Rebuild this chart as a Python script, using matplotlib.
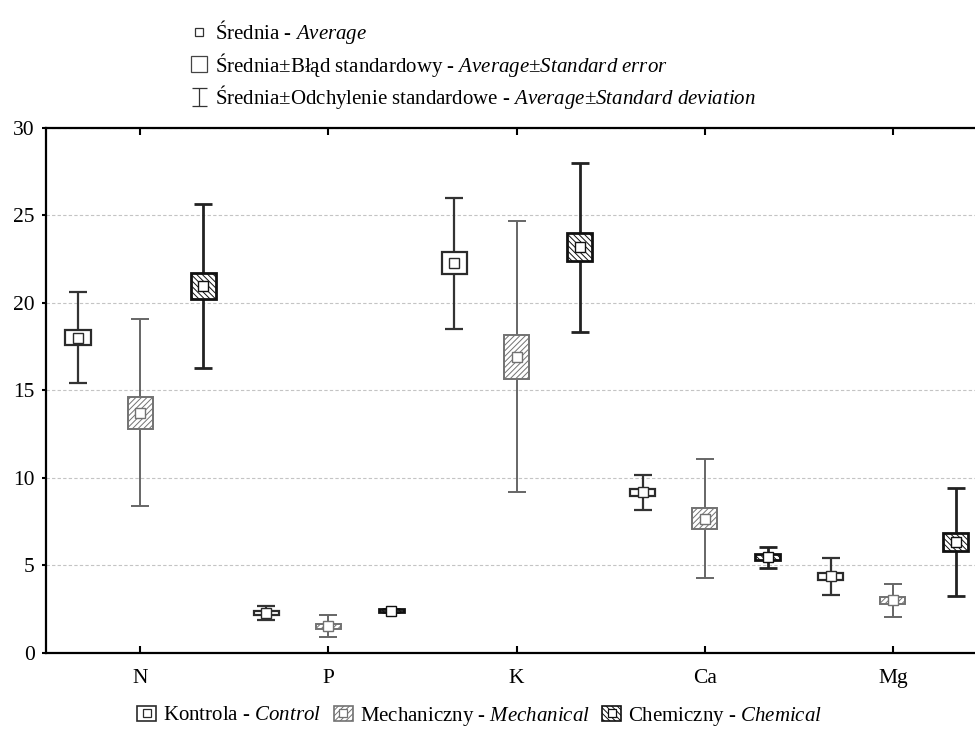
import numpy as np
import matplotlib
matplotlib.use('Agg')
import matplotlib.pyplot as plt
from matplotlib.lines import Line2D
from matplotlib.patches import Patch
from matplotlib.path import Path
from matplotlib.legend_handler import HandlerTuple

plt.rcParams['font.family'] = ['Liberation Serif', 'DejaVu Serif']
plt.rcParams['mathtext.fontset'] = 'custom'
plt.rcParams['mathtext.rm'] = 'Liberation Serif'
plt.rcParams['mathtext.it'] = 'Liberation Serif:italic'
plt.rcParams['hatch.linewidth'] = 0.7

# dane: średnia, błąd standardowy, odchylenie standardowe
elements = ['N', 'P', 'K', 'Ca', 'Mg']

control_mean = [18.0, 2.25, 22.25, 9.15, 4.35]
control_se = [0.42, 0.12, 0.63, 0.2, 0.22]
control_sd = [2.6, 0.4, 3.75, 1.0, 1.05]

mech_mean = [13.7, 1.5, 16.9, 7.65, 2.98]
mech_se = [0.9, 0.15, 1.27, 0.58, 0.18]
mech_sd = [5.35, 0.62, 7.75, 3.4, 0.95]

chem_mean = [20.95, 2.4, 23.15, 5.45, 6.3]
chem_se = [0.75, 0.06, 0.8, 0.17, 0.52]
chem_sd = [4.7, 0.08, 4.85, 0.6, 3.08]

groups = [
    # (średnie, SE, SD, przesunięcie, kolor krawędzi, kolor wąsów, grubość, kreskowanie)
    (control_mean, control_se, control_sd, -0.33, '#2b2b2b', '#333333', 1.6, None),
    (mech_mean, mech_se, mech_sd, 0.0, '#727272', '#666666', 1.4, '//////'),
    (chem_mean, chem_se, chem_sd, 0.335, '#111111', '#222222', 2.0, '\\\\\\\\\\\\'),
]

fig = plt.figure(figsize=(9.75, 7.29), dpi=100)
ax = fig.add_axes([0.0472, 0.1049, 0.9651, 0.7202])

x = np.arange(len(elements))
box_w = 0.133

for mean, se, sd, off, ec, wc, lw, hatch in groups:
    xs = x + off
    mean = np.array(mean)
    se = np.array(se)
    ax.errorbar(xs, mean, yerr=sd, fmt='none', ecolor=wc, elinewidth=lw,
                capsize=6.5, capthick=lw, zorder=2)
    ax.bar(xs, 2 * se, bottom=mean - se, width=box_w, color='white',
           edgecolor=ec, linewidth=lw, hatch=hatch, zorder=3)
    ax.plot(xs, mean, 's', ms=6.5, mfc='white', mec=ec, mew=1.0, zorder=4)

ax.set_xlim(-0.5, 4.5)
ax.set_ylim(0, 30)
ax.set_xticks(x)
ax.set_xticklabels(elements)
ax.set_yticks(np.arange(0, 31, 5))
ax.yaxis.grid(True, color='#c4c4c4', linestyle=(0, (3, 2)), linewidth=0.8)
ax.set_axisbelow(True)

ax.tick_params(axis='x', direction='in', length=5, width=1.5, top=True,
               labelsize=15.5, pad=12)
ax.tick_params(axis='y', direction='out', length=3, width=1.5,
               labelsize=15.5, pad=5)
for s in ['left', 'bottom', 'top']:
    ax.spines[s].set_linewidth(1.6)

# legenda górna (opis symboli)
whisker = Path([(-0.4, 0.5), (0.4, 0.5), (0, 0.5), (0, -0.5), (-0.4, -0.5), (0.4, -0.5)],
               [Path.MOVETO, Path.LINETO, Path.MOVETO, Path.LINETO,
                Path.MOVETO, Path.LINETO])
top_handles = [
    Line2D([], [], ls='none', marker='s', ms=5.5, mfc='white', mec='#333333', mew=0.9),
    Line2D([], [], ls='none', marker='s', ms=11.5, mfc='white', mec='#444444', mew=0.9),
    Line2D([], [], ls='none', marker=whisker, ms=13.5, mec='#333333', mew=0.9),
]
top_labels = [
    'Średnia - $\\mathit{Average}$',
    'Średnia±Błąd standardowy - $\\mathit{Average}$±$\\mathit{Standard\\ error}$',
    'Średnia±Odchylenie standardowe - $\\mathit{Average}$±$\\mathit{Standard\\ deviation}$',
]
fig.legend(top_handles, top_labels, loc='upper left',
           bbox_to_anchor=(190 / 975, 1 - 18 / 729), frameon=False,
           fontsize=15, borderpad=0, borderaxespad=0, handlelength=0.9,
           handletextpad=0.3, labelspacing=0.22)

# legenda dolna (grupy)
bottom_handles = []
for mean, se, sd, off, ec, wc, lw, hatch in groups:
    p = Patch(facecolor='white', edgecolor=ec, linewidth=1.2, hatch=hatch)
    m = Line2D([], [], ls='none', marker='s', ms=6, mfc='white', mec=ec, mew=0.9)
    bottom_handles.append((p, m))
bottom_labels = [
    'Kontrola - $\\mathit{Control}$',
    'Mechaniczny - $\\mathit{Mechanical}$',
    'Chemiczny - $\\mathit{Chemical}$',
]
fig.legend(bottom_handles, bottom_labels, loc='center',
           bbox_to_anchor=(0.492, 1 - 716 / 729), ncol=3, frameon=False,
           fontsize=15, borderpad=0, borderaxespad=0, handlelength=0.9,
           handleheight=0.75, handletextpad=0.35, columnspacing=0.6,
           handler_map={tuple: HandlerTuple(ndivide=1, pad=0)})

fig.savefig('out.png', dpi=100)
